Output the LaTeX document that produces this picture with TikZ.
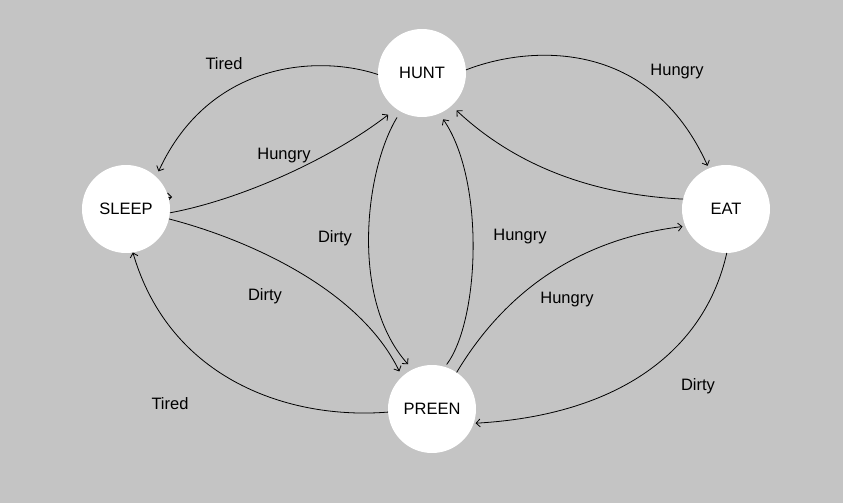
\documentclass[tikz,border=0pt]{standalone}
\usepackage{fontspec}
\setmainfont{Liberation Sans}
\usetikzlibrary{arrows.meta}
\definecolor{bggray}{HTML}{C4C4C4}
\begin{document}
\begin{tikzpicture}[x=1pt,y=-1pt,
  state/.style={circle,fill=white,minimum size=88pt,inner sep=0pt,outer sep=0pt,font=\fontsize{16.5}{19}\selectfont},
  lbl/.style={font=\fontsize{16.5}{19}\selectfont,inner sep=0pt},
  arr/.style={line width=0.8pt,-{Straight Barb[length=4pt,width=8pt]}}]
\fill[bggray] (0,0) rectangle (843,503);
\useasboundingbox (0,0) rectangle (843,503);
% stray arrow tip partly hidden by SLEEP
\coordinate (strayA) at (150,197);
\coordinate (strayB) at (172,197);
\draw[arr] (strayA) -- (strayB);
% states
\node[state] (hunt) at (422,73) {HUNT};
\node[state] (sleep) at (126,209) {SLEEP};
\node[state] (eat) at (726,209) {EAT};
\node[state] (preen) at (432,409) {PREEN};
% transitions
\draw[arr,shorten >=6pt] (hunt.182) .. controls +(-58,-19.5) and +(54,-117) .. (sleep.47);
\draw[arr,shorten >=10pt] (sleep.-5) .. controls +(70,-13) and +(-66,51) .. (hunt.234);
\draw[arr,shorten <=7pt,shorten >=7pt] (hunt.241) .. controls +(-35.7,58.5) and +(-63,-70) .. (preen.116);
\draw[arr,shorten <=3pt,shorten >=7pt] (preen.73) .. controls +(35,-47) and +(45.8,66.5) .. (hunt.293);
\draw[arr,shorten >=7pt] (eat.167) .. controls +(-83,-4) and +(68.6,64.3) .. (hunt.312);
\draw[arr,shorten >=3pt] (hunt.4) .. controls +(64,-25) and +(-58.8,-130.5) .. (eat.113);
\draw[arr,shorten >=6pt] (sleep.-13) .. controls +(81,21) and +(-42,-86.8) .. (preen.133);
\draw[arr] (preen.184) .. controls +(-98,8) and +(37,127.5) .. (sleep.279);
\draw[arr,shorten >=3pt] (preen.56) .. controls +(43.4,-72.5) and +(-115.5,13.8) .. (eat.203);
\draw[arr,shorten >=2pt] (eat.271) .. controls +(-21.8,97) and +(146.4,-8.3) .. (preen.341);
% labels
\node[lbl] (l1) at (224,64) {Tired};
\node[lbl] (l2) at (284,156) {Hungry};
\node[lbl] (l3) at (335,238) {Dirty};
\node[lbl] (l4) at (520,237) {Hungry};
\node[lbl] (l5) at (677,72) {Hungry};
\node[lbl] (l6) at (265,296) {Dirty};
\node[lbl] (l7) at (170,404) {Tired};
\node[lbl] (l8) at (567,300) {Hungry};
\node[lbl] (l9) at (698,386) {Dirty};
\end{tikzpicture}
\end{document}
